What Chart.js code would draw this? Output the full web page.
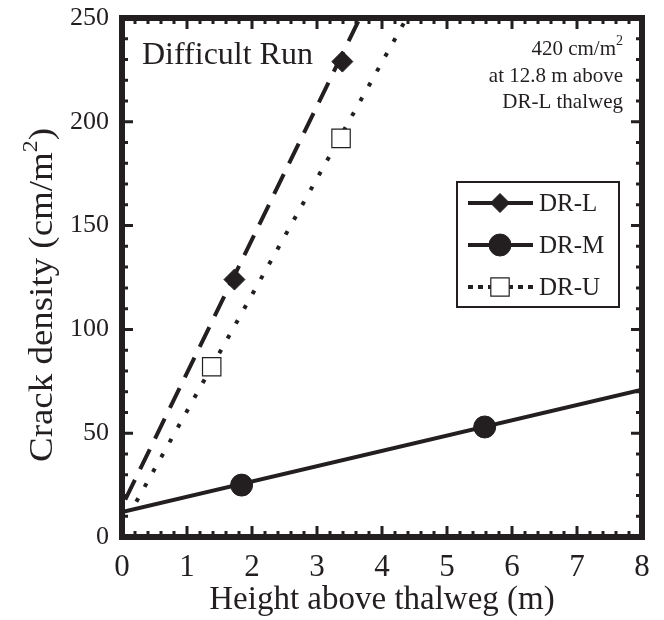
<!DOCTYPE html>
<html>
<head>
<meta charset="utf-8">
<title>Crack density - Difficult Run</title>
<script src="https://cdn.jsdelivr.net/npm/chart.js@4.4.1/dist/chart.umd.min.js"></script>
<style>
  html, body { margin: 0; padding: 0; background: #fff; }
  #wrap { width: 664px; height: 620px; position: relative; }
</style>
</head>
<body>
<div id="wrap"><canvas id="crackChart" width="664" height="620"></canvas></div>
<script>
// measured points (height above thalweg m, crack density cm/m2)
const seriesNames = ["DR-L", "DR-M", "DR-U"];
const drLx = [1.73, 3.39];
const drLy = [124, 229];
const drMx = [1.84, 5.58];
const drMy = [25, 53];
const drUx = [1.38, 3.37];
const drUy = [82, 192];

// fitted lines, end points
const fitLx = [0.05, 3.66];
const fitLy = [18, 250];
const fitMx = [0, 8];
const fitMy = [12, 71];
const fitUx = [0.22, 4.38];
const fitUy = [17, 250];

const xTicks = [0, 1, 2, 3, 4, 5, 6, 7, 8];
const yTicks = [0, 50, 100, 150, 200, 250];

const ink = "#231f20";
const serif = "'Liberation Serif', 'DejaVu Serif', serif";

function pts(xs, ys) {
  return xs.map((x, i) => ({ x: x, y: ys[i] }));
}

const markerStyles = [
  { pointStyle: "rectRot", radius: 10.5, fill: ink, border: ink, width: 1 },
  { pointStyle: "circle", radius: 11, fill: ink, border: ink, width: 1 },
  { pointStyle: "rect", radius: 13, fill: "#fff", border: ink, width: 1.2 }
];
const lineDash = [[22, 12], [], [4, 13]];

// frame, inward ticks, annotations, y title and boxed legend
const decorPlugin = {
  id: "decor",
  afterDatasetsDraw(chart) {
    const ctx = chart.ctx;
    const a = chart.chartArea;
    const xs = chart.scales.x;
    const ys = chart.scales.y;
    ctx.save();

    // ticks
    ctx.strokeStyle = ink;
    ctx.lineWidth = 3;
    ctx.beginPath();
    for (let v = 0; v <= 8.0001; v += 0.2) {
      const major = Math.abs(v - Math.round(v)) < 0.001;
      const len = major ? 11 : 6;
      const px = xs.getPixelForValue(v);
      ctx.moveTo(px, a.bottom); ctx.lineTo(px, a.bottom - len);
      ctx.moveTo(px, a.top); ctx.lineTo(px, a.top + len);
    }
    for (let v = 0; v <= 250; v += 10) {
      const major = v % 50 === 0;
      const len = major ? 11 : 6;
      const py = ys.getPixelForValue(v);
      ctx.moveTo(a.left, py); ctx.lineTo(a.left + len, py);
      ctx.moveTo(a.right, py); ctx.lineTo(a.right - len, py);
    }
    ctx.stroke();

    // frame
    ctx.lineWidth = 6;
    ctx.strokeRect(a.left, a.top, a.right - a.left, a.bottom - a.top);

    // titles and notes
    ctx.fillStyle = ink;
    ctx.textBaseline = "alphabetic";
    ctx.textAlign = "left";
    ctx.font = "32px " + serif;
    ctx.fillText("Difficult Run", 142, 64);

    ctx.textAlign = "right";
    const rx = 623;
    ctx.font = "14px " + serif;
    const supW = ctx.measureText("2").width;
    ctx.fillText("2", rx, 45);
    ctx.font = "21px " + serif;
    ctx.fillText("420 cm/m", rx - supW, 55);
    ctx.fillText("at 12.8 m above", rx, 82);
    ctx.fillText("DR-L thalweg", rx, 108);

    // y axis title, stretched to the reference length
    ctx.save();
    ctx.translate(52, 295);
    ctx.rotate(-Math.PI / 2);
    ctx.textAlign = "left";
    const main = "Crack density (cm/m";
    ctx.font = "34px " + serif;
    const w1 = ctx.measureText(main).width;
    ctx.font = "22px " + serif;
    const w2 = ctx.measureText("2").width;
    ctx.font = "34px " + serif;
    const w3 = ctx.measureText(")").width;
    const total = w1 + w2 + w3;
    ctx.scale(334 / total, 1);
    const start = -total / 2;
    ctx.fillText(main, start, 0);
    ctx.font = "22px " + serif;
    ctx.fillText("2", start + w1, -15);
    ctx.font = "34px " + serif;
    ctx.fillText(")", start + w1 + w2, 0);
    ctx.restore();

    // legend box
    ctx.lineWidth = 2;
    ctx.strokeRect(457, 182, 162, 125);
    const rows = [203, 245, 287];
    seriesNames.forEach((name, i) => {
      const y = rows[i];
      ctx.save();
      ctx.strokeStyle = ink;
      ctx.lineWidth = 4;
      ctx.setLineDash(i === 2 ? [5, 5] : []);
      ctx.beginPath();
      ctx.moveTo(468, y);
      ctx.lineTo(533, y);
      ctx.stroke();
      ctx.restore();
      const m = markerStyles[i];
      ctx.save();
      ctx.fillStyle = m.fill;
      ctx.strokeStyle = m.border;
      ctx.lineWidth = m.width;
      Chart.helpers.drawPoint(ctx, {
        pointStyle: m.pointStyle,
        radius: i === 0 ? 9.5 : m.radius,
        rotation: 0,
        borderWidth: m.width
      }, 500, y);
      ctx.restore();
      ctx.fillStyle = ink;
      ctx.textAlign = "left";
      ctx.textBaseline = "middle";
      ctx.font = "25px " + serif;
      ctx.fillText(name, 539, y + 1);
    });

    ctx.restore();
  }
};

const markerSets = [pts(drLx, drLy), pts(drMx, drMy), pts(drUx, drUy)].map((d, i) => ({
  label: seriesNames[i],
  data: d,
  showLine: false,
  pointStyle: markerStyles[i].pointStyle,
  pointRadius: markerStyles[i].radius,
  pointBackgroundColor: markerStyles[i].fill,
  pointBorderColor: markerStyles[i].border,
  pointBorderWidth: markerStyles[i].width,
  pointHoverRadius: markerStyles[i].radius
}));

const fitSets = [pts(fitLx, fitLy), pts(fitMx, fitMy), pts(fitUx, fitUy)].map((d, i) => ({
  label: seriesNames[i] + " fit",
  data: d,
  showLine: true,
  borderColor: ink,
  borderWidth: 4,
  borderDash: lineDash[i],
  borderCapStyle: "butt",
  pointRadius: 0,
  pointHoverRadius: 0,
  fill: false
}));

const ctx = document.getElementById("crackChart").getContext("2d");
new Chart(ctx, {
  type: "scatter",
  data: { datasets: markerSets.concat(fitSets) },
  options: {
    responsive: false,
    animation: false,
    events: [],
    layout: { padding: { top: 18, right: 22, left: 0, bottom: 0 } },
    plugins: { legend: { display: false }, tooltip: { enabled: false } },
    scales: {
      x: {
        type: "linear",
        min: xTicks[0],
        max: xTicks[xTicks.length - 1],
        afterFit: (s) => { s.height = 83; s.paddingLeft = 0; s.paddingRight = 0; },
        afterBuildTicks: (s) => { s.ticks = xTicks.map((v) => ({ value: v })); },
        grid: { display: false, drawTicks: false },
        border: { display: false },
        ticks: { color: ink, padding: 12, font: { family: serif, size: 31 } },
        title: {
          display: true,
          text: "Height above thalweg (m)",
          color: ink,
          font: { family: serif, size: 33 },
          padding: { top: 0, bottom: 0 }
        }
      },
      y: {
        type: "linear",
        min: yTicks[0],
        max: yTicks[yTicks.length - 1],
        afterFit: (s) => { s.width = 122; s.paddingTop = 0; s.paddingBottom = 0; },
        afterBuildTicks: (s) => { s.ticks = yTicks.map((v) => ({ value: v })); },
        grid: { display: false, drawTicks: false },
        border: { display: false },
        ticks: { color: ink, padding: 13, font: { family: serif, size: 26 } }
      }
    }
  },
  plugins: [decorPlugin]
});
</script>
</body>
</html>
